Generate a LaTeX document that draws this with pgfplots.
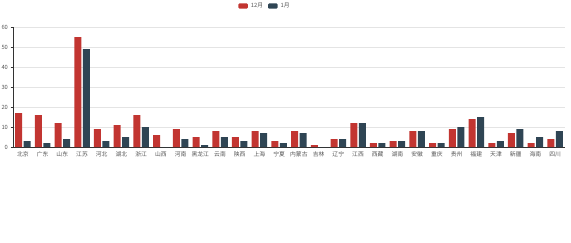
\documentclass[border=0pt]{standalone}
\usepackage{pgfplots}
\pgfplotsset{compat=1.18}
\usepackage{fontspec}
\setmainfont{Noto Sans CJK SC}
\definecolor{cRed}{HTML}{C23531}
\definecolor{cDark}{HTML}{2F4554}
\definecolor{axisgray}{HTML}{333333}
\definecolor{labelgray}{HTML}{555555}
\definecolor{gridgray}{HTML}{E4E4E4}

% 每省两期数值：12月、1月
\pgfplotstableread{
idx dec jan
0 17 3
1 16 2
2 12 4
3 55 49
4 9 3
5 11 5
6 16 10
7 6 0
8 9 4
9 5 1
10 8 5
11 5 3
12 8 7
13 3 2
14 8 7
15 1 0
16 4 4
17 12 12
18 2 2
19 3 3
20 8 8
21 2 2
22 9 10
23 14 15
24 2 3
25 7 9
26 2 5
27 4 8
}\provdata

\begin{document}
\begin{tikzpicture}
\useasboundingbox (0pt,0pt) rectangle (571pt,-242pt);
\begin{axis}[
  at={(13pt,-27pt)}, anchor=north west,
  scale only axis, width=552pt, height=120pt,
  ybar=1.5pt, bar width=7pt,
  ymin=0, ymax=60, ytick={0,10,...,60},
  xmin=-0.5, xmax=27.5,
  xtick={0,...,27},
  xticklabels={北京,广东,山东,江苏,河北,湖北,浙江,山西,河南,黑龙江,云南,陕西,上海,宁夏,内蒙古,吉林,辽宁,江西,西藏,湖南,安徽,重庆,贵州,福建,天津,新疆,海南,四川},
  minor xtick={-0.5,0.5,...,27.5},
  axis lines*=left,
  axis line style={axisgray, line width=0.5pt},
  tick align=outside,
  major tick length=2.5pt, minor tick length=2.5pt,
  xtick style={draw=none},
  minor x tick style={axisgray, line width=0.5pt},
  ytick style={axisgray, line width=0.5pt},
  ymajorgrids, grid style={gridgray, line width=0.6pt},
  ticklabel style={font=\fontsize{5.8}{6.5}\selectfont, text=labelgray},
  xticklabel style={yshift=1.6pt},
  yticklabel style={xshift=1pt},
  /pgf/number format/assume math mode=true,
  legend style={at={(0.4565,1.175)}, anchor=center, draw=none, fill=none,
    legend columns=2, font=\fontsize{5.8}{6.5}\selectfont, text=labelgray,
    /tikz/every odd column/.append style={column sep=1pt},
    /tikz/every even column/.append style={column sep=3pt}},
]
\addplot[fill=cRed, draw=none,
  legend image code/.code={\fill[cRed, rounded corners=1pt] (0pt,-2.6pt) rectangle (9.5pt,2.6pt);}]
  table[x=idx, y=dec] {\provdata};
\addplot[fill=cDark, draw=none,
  legend image code/.code={\fill[cDark, rounded corners=1pt] (0pt,-2.6pt) rectangle (9.5pt,2.6pt);}]
  table[x=idx, y=jan] {\provdata};
\legend{12月,1月}
\end{axis}
\end{tikzpicture}
\end{document}
